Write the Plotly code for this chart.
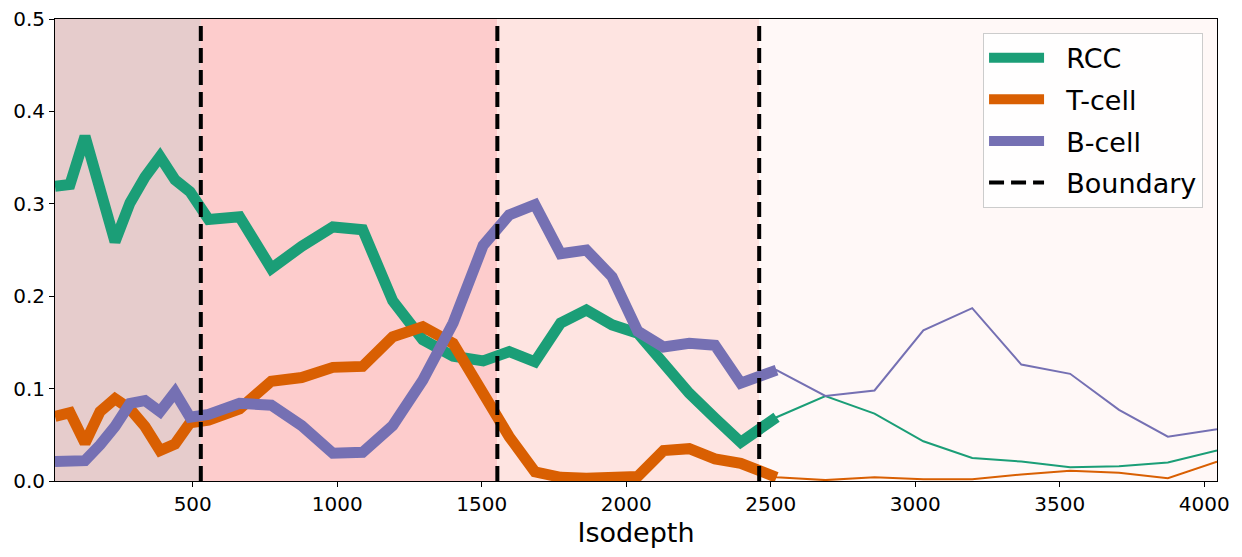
import plotly.graph_objects as go

isodepth = [23.5, 75.4, 127.3, 179.2, 231.1, 283.0, 334.9, 386.8, 438.7, 490.6,
            555, 662, 772, 877, 985, 1088, 1192, 1296, 1401, 1505,
            1595, 1684, 1773, 1862, 1951, 2040, 2129, 2218, 2307, 2396,
            2520, 2689, 2859, 3028, 3197, 3367, 3536, 3705, 3874, 4044]

rcc = [0.319, 0.321, 0.373, 0.315, 0.259, 0.301, 0.329, 0.351, 0.326, 0.313,
       0.283, 0.286, 0.230, 0.254, 0.275, 0.272, 0.195, 0.153, 0.135, 0.130,
       0.140, 0.129, 0.171, 0.185, 0.169, 0.160, 0.127, 0.095, 0.068, 0.042,
       0.069, 0.092, 0.073, 0.043, 0.025, 0.021, 0.015, 0.016, 0.020, 0.033]

tcell = [0.070, 0.074, 0.041, 0.075, 0.089, 0.078, 0.059, 0.033, 0.040, 0.063,
         0.066, 0.078, 0.108, 0.112, 0.123, 0.124, 0.156, 0.167, 0.149, 0.095,
         0.048, 0.010, 0.004, 0.003, 0.003, 0.005, 0.033, 0.035, 0.024, 0.019,
         0.004, 0.001, 0.004, 0.002, 0.002, 0.007, 0.011, 0.009, 0.003, 0.021]

bcell = [0.021, 0.021, 0.022, 0.039, 0.059, 0.084, 0.087, 0.075, 0.096, 0.069,
         0.072, 0.084, 0.082, 0.060, 0.030, 0.031, 0.060, 0.109, 0.171, 0.255,
         0.288, 0.299, 0.246, 0.250, 0.221, 0.162, 0.145, 0.149, 0.147, 0.106,
         0.120, 0.092, 0.098, 0.163, 0.187, 0.126, 0.116, 0.077, 0.048, 0.056]

series_names = ["RCC", "T-cell", "B-cell"]
series_colors = ["#1b9e77", "#d95f02", "#7570b3"]
boundaries = [528, 1554, 2460]
region_colors = ["#e6cccc", "#fdcccc", "#fee4e1", "#fff8f7"]
n_thick = 31
x_min, x_max = 23.5, 4044
pad = "\u00a0\u00a0"

fig = go.Figure()

# background regions
edges = [x_min] + boundaries + [x_max]
for i, c in enumerate(region_colors):
    fig.add_shape(type="rect", xref="x", yref="paper", x0=edges[i], x1=edges[i + 1],
                  y0=0, y1=1, fillcolor=c, line=dict(width=0), layer="below")

data = [rcc, tcell, bcell]
# thin full lines
for name, col, vals in zip(series_names, series_colors, data):
    fig.add_trace(go.Scatter(x=isodepth, y=vals, mode="lines", showlegend=False,
                             line=dict(color=col, width=2), hoverinfo="skip"))
# thick lines in the first part
for name, col, vals in zip(series_names, series_colors, data):
    fig.add_trace(go.Scatter(x=isodepth[:n_thick], y=vals[:n_thick], mode="lines",
                             name=pad + name, legendgroup=name,
                             line=dict(color=col, width=11)))

# boundaries
bx, by = [], []
for b in boundaries:
    bx += [b, b, None]
    by += [0, 0.5, None]
fig.add_trace(go.Scatter(x=bx, y=by, mode="lines", name=pad + "Boundary", legendgroup="Boundary",
                         line=dict(color="black", width=4, dash="15px,7px")))

font = "DejaVu Sans"
fig.update_layout(
    width=1242, height=557,
    margin=dict(l=55, r=25, t=19, b=76),
    paper_bgcolor="white", plot_bgcolor="white",
    font=dict(family=font, color="black", size=20),
    legend=dict(x=0.988, xanchor="right", y=0.9703, yanchor="top",
                bgcolor="rgba(255,255,255,0.85)", bordercolor="#cccccc", borderwidth=1,
                font=dict(size=27, family=font), itemwidth=55, tracegroupgap=3.5),
    showlegend=True,
)
fig.update_xaxes(range=[x_min, x_max], tickvals=[500, 1000, 1500, 2000, 2500, 3000, 3500, 4000],
                 ticks="outside", ticklen=5, tickcolor="black", showline=True, mirror=True,
                 linecolor="black", linewidth=1, showgrid=False, zeroline=False, automargin=False,
                 tickfont=dict(size=20), title=dict(text="Isodepth", font=dict(size=27), standoff=8))
fig.update_yaxes(range=[0, 0.5], tickvals=[0, 0.1, 0.2, 0.3, 0.4, 0.5], tickformat=".1f",
                 ticks="outside", ticklen=5, tickcolor="black", showline=True, mirror=True,
                 linecolor="black", linewidth=1, showgrid=False, zeroline=False, automargin=False,
                 tickfont=dict(size=20))

fig.write_html("out.html")
